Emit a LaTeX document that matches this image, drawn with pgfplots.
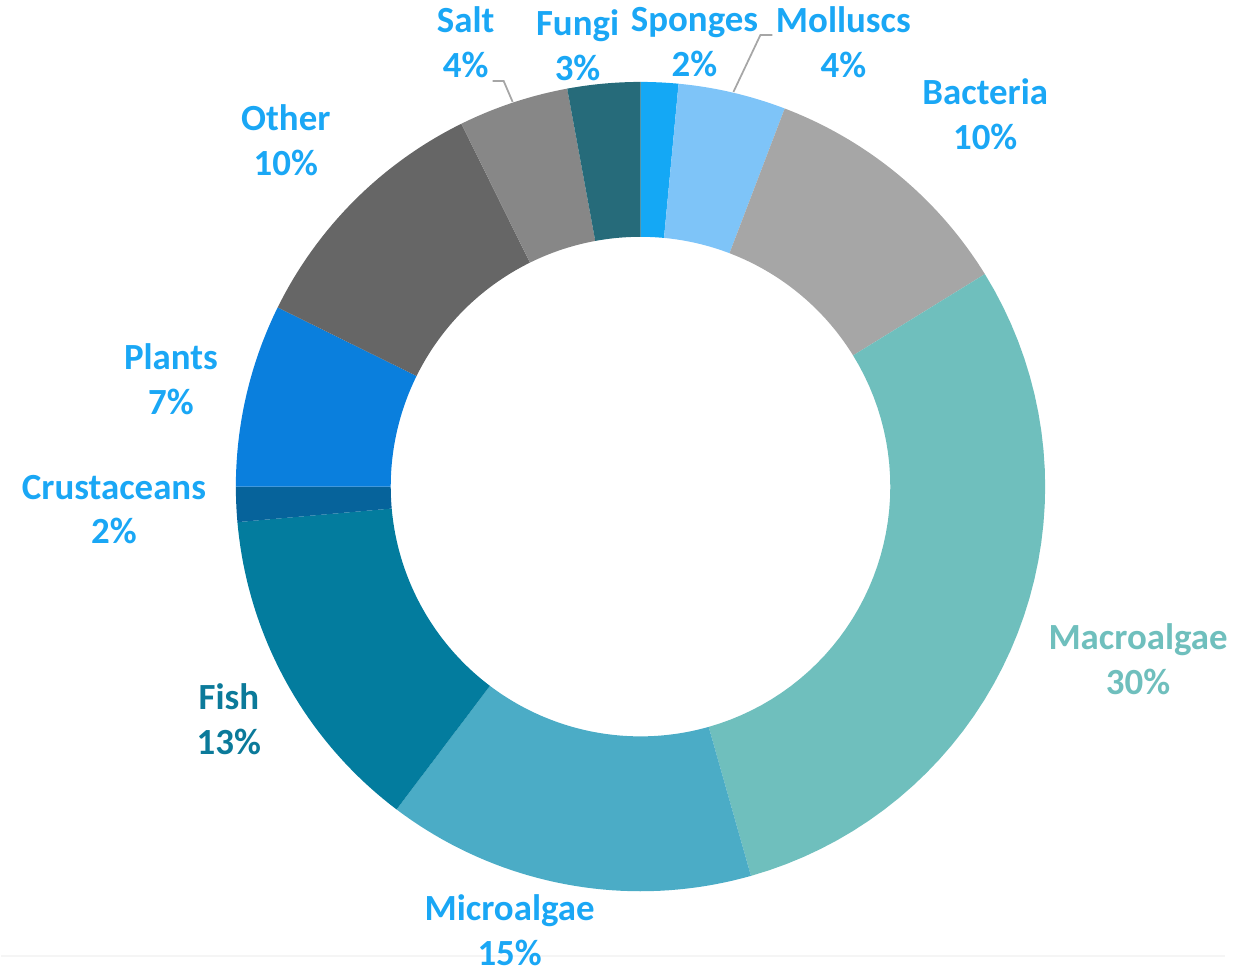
\documentclass[border=0pt]{standalone}
\usepackage{pgfplots}
\pgfplotsset{compat=1.18}
\usepackage{fontspec}
\setmainfont{Carlito}
\definecolor{cSponges}{HTML}{14A8F5}
\definecolor{cMolluscs}{HTML}{7EC4F8}
\definecolor{cBacteria}{HTML}{A6A6A6}
\definecolor{cMacro}{HTML}{6FBFBD}
\definecolor{cMicro}{HTML}{4BACC6}
\definecolor{cFish}{HTML}{037C9E}
\definecolor{cCrust}{HTML}{06639B}
\definecolor{cPlants}{HTML}{0A7FDD}
\definecolor{cOther}{HTML}{666666}
\definecolor{cSalt}{HTML}{878787}
\definecolor{cFungi}{HTML}{266B7A}
\definecolor{lblue}{HTML}{1AA7F5}
\definecolor{lfish}{HTML}{0B7A9A}
\definecolor{lead}{HTML}{A6A6A6}
\tikzset{lbl/.style={font=\fontsize{10.5}{12.8}\selectfont\bfseries, align=center, inner sep=0pt}}
% slice: start%, end% (cumulative, clockwise from 12 o'clock), colour
\newcommand{\slice}[3]{%
  \addplot[fill=#3, draw=none, samples at={0,...,81}, variable=\t]
  ({640 + ifthenelse(\t<41, 405*sin(3.6*(#1+(#2-#1)*\t/40)), 250*sin(3.6*(#2-(#2-#1)*(\t-41)/40)))},
   {487 + ifthenelse(\t<41, 405*cos(3.6*(#1+(#2-#1)*\t/40)), 250*cos(3.6*(#2-(#2-#1)*(\t-41)/40)))});}
\begin{document}
\begin{tikzpicture}
\begin{axis}[scale only axis, width=12.58cm, height=9.74cm,
  xmin=0, xmax=1258, ymin=0, ymax=974, hide axis, clip=false]
\path (axis cs:0,0) rectangle (axis cs:1258,974);
\draw[black!4, line width=0.6pt] (axis cs:0,17) -- (axis cs:1225,17);
\slice{0}{1.5}{cSponges}
\slice{1.5}{5.8}{cMolluscs}
\slice{5.8}{16.2}{cBacteria}
\slice{16.2}{45.6}{cMacro}
\slice{45.6}{60.3}{cMicro}
\slice{60.3}{73.6}{cFish}
\slice{73.6}{75.0}{cCrust}
\slice{75.0}{82.3}{cPlants}
\slice{82.3}{92.7}{cOther}
\slice{92.7}{97.1}{cSalt}
\slice{97.1}{100}{cFungi}
% leader lines
\draw[lead, line width=0.5pt] (axis cs:492,893) -- (axis cs:503,893) -- (axis cs:512,872);
\draw[lead, line width=0.5pt] (axis cs:772,939) -- (axis cs:760,939) -- (axis cs:733,882);
% labels
\node[lbl, text=lblue] at (axis cs:465,932) {Salt\\4\%};
\node[lbl, text=lblue] at (axis cs:577,929) {Fungi\\3\%};
\node[lbl, text=lblue] at (axis cs:694,932) {Sponges\\2\%};
\node[lbl, text=lblue] at (axis cs:843,932) {Molluscs\\4\%};
\node[lbl, text=lblue] at (axis cs:985,860) {Bacteria\\10\%};
\node[lbl, text=cMacro] at (axis cs:1138,314) {Macroalgae\\30\%};
\node[lbl, text=lblue] at (axis cs:509,43) {Microalgae\\15\%};
\node[lbl, text=lfish] at (axis cs:228,254) {Fish\\13\%};
\node[lbl, text=lblue] at (axis cs:113,464) {Crustaceans\\2\%};
\node[lbl, text=lblue] at (axis cs:170,594) {Plants\\7\%};
\node[lbl, text=lblue] at (axis cs:285,834) {Other\\10\%};
\end{axis}
\end{tikzpicture}
\end{document}
